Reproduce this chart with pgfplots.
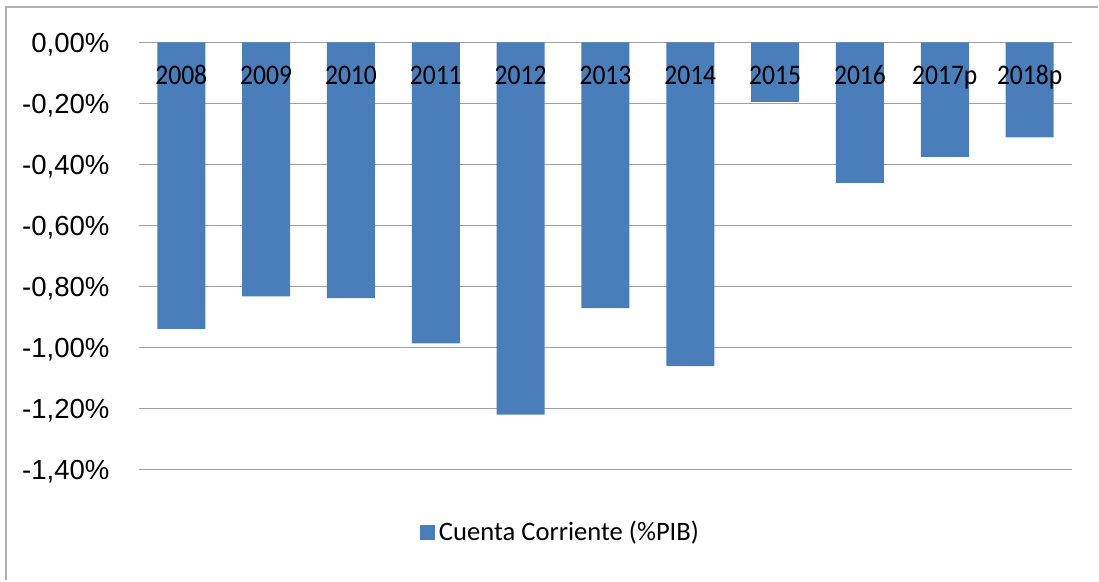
\documentclass[border=0pt]{standalone}
\usepackage{graphicx}
\usepackage{pgfplots}
\pgfplotsset{compat=1.18}
\usepackage{fontspec}
\setmainfont{Carlito}
\newfontfamily\arialfont{Liberation Sans}

\definecolor{barblue}{RGB}{74,126,187}
\definecolor{gridgray}{RGB}{160,160,160}
\definecolor{framegray}{RGB}{175,175,175}

\newcommand{\yr}[1]{\scalebox{0.9}[1]{#1}}

\pgfplotsset{
  chartbox/.style={
    at={(69.5pt,55.5pt)},
    anchor=south west,
    scale only axis,
    width=467pt,
    height=213.75pt,
    xmin=-0.5, xmax=10.5,
    ymin=-1.4, ymax=0,
    major tick length=0pt,
    axis line style={draw=none},
  },
}

\begin{document}
\begin{tikzpicture}
  \path (0,0) rectangle (549.5pt,290.5pt);
  \draw[framegray, line width=1pt] (3pt,0) -- (3pt,287pt) -- (549.5pt,287pt);
  \begin{axis}[
    chartbox,
    ybar,
    bar width=24pt,
    xtick=\empty,
    ytick={-1.4,-1.2,-1.0,-0.8,-0.6,-0.4,-0.2,0},
    yticklabels={{-1,40\%},{-1,20\%},{-1,00\%},{-0,80\%},{-0,60\%},{-0,40\%},{-0,20\%},{0,00\%}},
    y tick label style={anchor=base east, inner sep=0pt, xshift=-14.5pt, yshift=-5pt,
      font=\arialfont\fontsize{13.8}{15}\selectfont},
    ymajorgrids=true,
    grid style={gridgray, line width=0.9pt},
    legend style={
      at={(0.4529,-0.1474)},
      anchor=center,
      draw=none,
      fill=none,
      font=\fontsize{13.3}{15}\selectfont,
    },
    legend image code/.code={
      \fill[barblue] (0pt,-3.75pt) rectangle (7.5pt,3.75pt);
    },
  ]
  \addplot[fill=barblue, draw=none] coordinates {
    (0, -0.939)
    (1, -0.832)
    (2, -0.838)
    (3, -0.986)
    (4, -1.220)
    (5, -0.871)
    (6, -1.061)
    (7, -0.195)
    (8, -0.460)
    (9, -0.375)
    (10, -0.311)
  };
  \addlegendentry{Cuenta Corriente (\%PIB)}
  \end{axis}
  % second axis on the same box: category labels drawn over the bars
  \begin{axis}[
    chartbox,
    hide y axis,
    xtick={0,1,2,3,4,5,6,7,8,9,10},
    xticklabels={\yr{2008},\yr{2009},\yr{2010},\yr{2011},\yr{2012},\yr{2013},
      \yr{2014},\yr{2015},\yr{2016},\yr{2017p},\yr{2018p}},
    xticklabel pos=upper,
    x tick label style={anchor=base, inner sep=0pt, yshift=-21.25pt,
      font=\fontsize{14.2}{16}\selectfont},
  ]
  \end{axis}
\end{tikzpicture}
\end{document}
